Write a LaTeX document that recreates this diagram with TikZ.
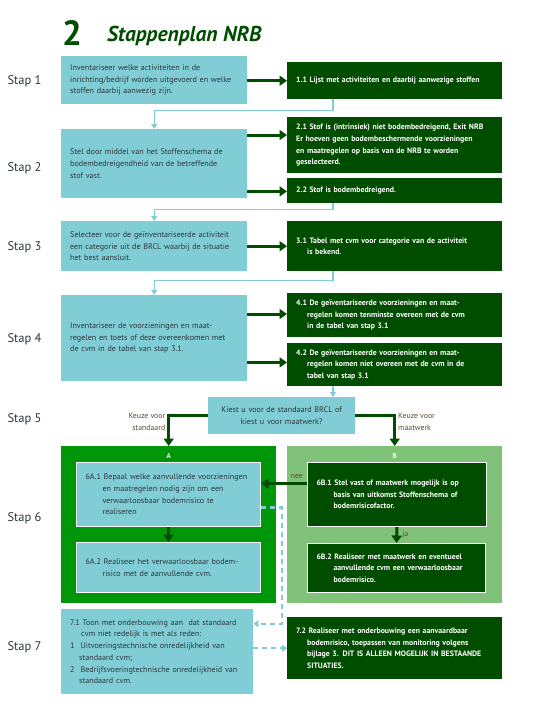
\documentclass[tikz,border=0pt]{standalone}
\usepackage{fontspec}
\setmainfont{PT Sans}
\usetikzlibrary{arrows.meta,positioning,calc}
\definecolor{lichtblauw}{RGB}{128,205,213}
\definecolor{donkergroen}{RGB}{0,77,0}
\definecolor{groenA}{RGB}{0,150,10}
\definecolor{groenB}{RGB}{128,194,122}
\definecolor{tekstgrijs}{RGB}{45,55,62}
\definecolor{keuzebruin}{RGB}{90,72,50}
\tikzset{
  stap/.style={anchor=west, text=tekstgrijs, font=\fontsize{12.5}{14}\selectfont},
  taak/.style={anchor=north west, fill=lichtblauw, text=tekstgrijs, align=left, inner xsep=9pt, inner ysep=1pt, font=\fontsize{8.1}{11.7}\selectfont},
  uitkomst/.style={anchor=north west, fill=donkergroen, text=white, align=left, inner xsep=9pt, inner ysep=1pt, font=\fontsize{7.8}{11.7}\selectfont\bfseries},
  kader/.style={anchor=north west, minimum width=215pt, minimum height=157pt, inner sep=0pt},
  kop/.style={text=white, font=\fontsize{7}{8}\selectfont\bfseries},
  flow/.style={-{Triangle[width=10pt,length=7.5pt]}, line width=3pt, donkergroen},
  link/.style={-{Triangle[width=6pt,length=5pt]}, line width=1.3pt, lichtblauw},
  stippel/.style={-{Triangle[width=7pt,length=5pt]}, line width=2.2pt, lichtblauw, dash pattern=on 5pt off 4pt},
  keuze/.style={text=keuzebruin, font=\fontsize{7.8}{11.5}\selectfont, inner sep=2pt}
}
\begin{document}
\begin{tikzpicture}[x=1pt,y=-1pt]
  \useasboundingbox[fill=white] (0,0) rectangle (534,723);
  % titel
  \node[anchor=west, inner sep=0pt, text=donkergroen, font=\fontsize{35}{35}\selectfont\bfseries] (nr) at (62,33) {2};
  \node[anchor=base west, inner sep=0pt, text=donkergroen, font=\fontsize{21.5}{21.5}\selectfont\bfseries\itshape] (titel) at (107,41) {Stappenplan NRB};
  % stappen
  \node[stap] (s1) at (4,81) {Stap 1};
  \node[stap] (s2) at (4,168) {Stap 2};
  \node[stap] (s3) at (4,247) {Stap 3};
  \node[stap] (s4) at (4,339) {Stap 4};
  \node[stap] (s5) at (4,419) {Stap 5};
  \node[stap] (s6) at (4,518) {Stap 6};
  \node[stap] (s7) at (4,647) {Stap 7};
  % stap 1
  \node[taak, text width=168pt, minimum height=48pt] (b1) at (61,56) {Inventariseer welke activiteiten in de\\inrichting/bedrijf worden uitgevoerd en welke\\stoffen daarbij aanwezig zijn.};
  \node[uitkomst, text width=197pt, minimum height=37pt] (o11) at (287,62) {1.1 Lijst met activiteiten en daarbij aanwezige stoffen};
  % stap 2
  \node[taak, text width=168pt, minimum height=69pt] (b2) at (61,129) {Stel door middel van het Stoffenschema de\\bodembedreigendheid van de betreffende\\stof vast.};
  \node[uitkomst, text width=197pt, minimum height=56pt] (o21) at (287,117) {2.1 Stof is (intrinsiek) niet bodembedreigend, Exit NRB\\Er hoeven geen bodembeschermende voorzieningen\\en maatregelen op basis van de NRB te worden\\geselecteerd.};
  \node[uitkomst, text width=197pt, minimum height=25pt] (o22) at (287,178) {2.2 Stof is bodembedreigend.};
  % stap 3
  \node[taak, text width=168pt, minimum height=50pt] (b3) at (61,221) {Selecteer voor de geïnventariseerde activiteit\\een categorie uit de BRCL waarbij de situatie\\het best aansluit.};
  \node[uitkomst, text width=197pt, minimum height=50pt] (o31) at (287,221) {3.1 Tabel met cvm voor categorie van de activiteit\\\hspace*{11pt}is bekend.};
  % stap 4
  \node[taak, text width=168pt, minimum height=86pt] (b4) at (61,295) {Inventariseer de voorzieningen en maat-\\regelen en toets of deze overeenkomen met\\de cvm in de tabel van stap 3.1.};
  \node[uitkomst, text width=197pt, minimum height=44pt] (o41) at (287,293) {4.1 De geïventariseerde voorzieningen en maat-\\\hspace*{11pt}regelen komen tenminste overeen met de cvm\\\hspace*{11pt}in de tabel van stap 3.1};
  \node[uitkomst, text width=197pt, minimum height=43pt] (o42) at (287,343) {4.2 De geïventariseerde voorzieningen en maat-\\\hspace*{11pt}regelen komen niet overeen met de cvm in de\\\hspace*{11pt}tabel van stap 3.1};
  % stap 5
  \node[taak, align=center, inner xsep=4pt, text width=139pt, minimum height=37pt] (vraag) at (208,397) {Kiest u voor de standaard BRCL of\\kiest u voor maatwerk?};
  % stap 6
  \node[kader, fill=groenA, label={[kop, anchor=north, yshift=-4pt]north:A}] (A) at (61,446) {};
  \node[kader, fill=groenB, label={[kop, anchor=north, yshift=-4pt]north:B}] (B) at (287,446) {};
  \node[taak, draw=white, line width=1pt, text width=166pt, minimum height=64pt] (a1) at (76,462) {6A.1 Bepaal welke aanvullende voorzieningen\\\hspace*{17pt}en maatregelen nodig zijn om een\\\hspace*{17pt}verwaarloosbaar bodemrisico te\\\hspace*{17pt}realiseren};
  \node[taak, draw=white, line width=1pt, text width=166pt, minimum height=50pt] (a2) at (76,542) {6A.2 Realiseer het verwaarloosbaar bodem-\\\hspace*{17pt}risico met de aanvullende cvm.};
  \node[uitkomst, draw=white, line width=1pt, text width=161pt, minimum height=64pt] (m1) at (307,462) {6B.1 Stel vast of maatwerk mogelijk is op\\\hspace*{17pt}basis van uitkomst Stoffenschema of\\\hspace*{17pt}bodemrisicofactor.};
  \node[uitkomst, draw=white, line width=1pt, text width=160pt, minimum height=49pt] (m2) at (307,543) {6B.2 Realiseer met maatwerk en eventueel\\\hspace*{17pt}aanvullende cvm een verwaarloosbaar\\\hspace*{17pt}bodemrisico.};
  % stap 7
  \node[taak, text width=174pt, minimum height=85pt] (t71) at (61,609) {7.1 Toon met onderbouwing aan\ \ dat standaard\\\hspace*{11pt}cvm niet redelijk is met als reden:\\1\hspace*{6pt}Uitvoeringstechnische onredelijkheid van\\\hspace*{9pt}standaard cvm;\\2\hspace*{6pt}Bedrijfsvoeringtechnische onredelijkheid van\\\hspace*{9pt}standaard cvm.};
  \node[uitkomst, text width=197pt, minimum height=62pt] (t72) at (287,617) {7.2 Realiseer met onderbouwing een aanvaardbaar\\\hspace*{11pt}bodemrisico, toepassen van monitoring volgens\\\hspace*{11pt}bijlage 3. DIT IS ALLEEN MOGELIJK IN BESTAANDE\\\hspace*{11pt}SITUATIES.};
  % pijlen naar uitkomsten
  \draw[flow] (b1.east |- o11.west) -- (o11.west);
  \draw[flow] ([yshift=-6pt]b2.north east) -- ([yshift=-6pt]b2.north east -| o21.west);
  \draw[flow] ([yshift=7pt]b2.south east) -- ([yshift=7pt]b2.south east -| o22.west);
  \draw[flow] (b3.east) -- (b3.east -| o31.west);
  \draw[flow] ([yshift=-19pt]b4.north east) -- ([yshift=-19pt]b4.north east -| o41.west);
  \draw[flow] ([yshift=19pt]b4.south east) -- ([yshift=19pt]b4.south east -| o42.west);
  % terug naar de volgende stap
  \draw[link] ([xshift=46pt]o11.south west) -- ++(0,11) -| (b2.north);
  \draw[link] ([xshift=46pt]o22.south west) -- ++(0,6) -| (b3.north);
  \draw[link] ([xshift=46pt]o31.south west) -- ++(0,9) -| (b4.north);
  \coordinate (v42) at ([xshift=46pt]o42.south west);
  \draw[link] (v42) -- (v42 |- vraag.north);
  % keuze
  \draw[flow] (vraag.west) -| (A.north) node[keuze, pos=0.6, left, align=right] {Keuze voor\\standaard};
  \draw[flow] (vraag.east) -| (B.north) node[keuze, pos=0.6, right, align=left] {Keuze voor\\maatwerk};
  \draw[flow] (a1.south) -- (a2.north);
  \draw[flow] (m1.south) -- (m2.north) node[keuze, midway, right, xshift=2pt] {ja};
  \draw[flow] ([yshift=11pt]m1.west) -- ([yshift=11pt]m1.west -| a1.east) node[keuze, pos=0.22, above, yshift=1pt] {nee};
  % stippellijnen
  \draw[stippel] ([yshift=-13pt]a1.east) -- ++(21,0) |- ([yshift=28pt]t71.east);
  \draw[stippel] (t71.east |- t72.west) -- (t72.west);
\end{tikzpicture}
\end{document}
